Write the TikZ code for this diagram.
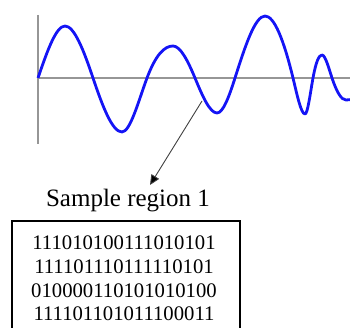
\documentclass[tikz,border=0pt]{standalone}
\usepackage{fontspec}
\setmainfont{Liberation Serif}
\usetikzlibrary{arrows.meta}
\definecolor{wave}{RGB}{20,20,245}
\definecolor{axisgray}{RGB}{150,150,150}
\tikzset{
  axisline/.style={draw=axisgray, line width=1.4pt},
  waveline/.style={draw=wave, line width=2.8pt, line join=round},
  pointer/.style={draw=black!75, line width=0.9pt, -{Triangle[length=10pt,width=9pt,fill=black]}},
  label/.style={inner sep=0pt, anchor=base, font=\fontsize{25}{30}\selectfont},
  bits/.style={inner sep=0pt, anchor=base, font=\fontsize{20.7}{23}\selectfont},
  framebox/.style={draw=black, line width=1.3pt},
}
\begin{document}
\begin{tikzpicture}[x=1pt,y=-1pt]
\useasboundingbox (0,0) rectangle (350,328);
\begin{scope}
\clip (0,0) rectangle (350,328);
% axes
\coordinate (ytop) at (38,15);
\coordinate (ybot) at (38,144);
\coordinate (xl) at (38,78);
\coordinate (xr) at (352,78);
\draw[axisline] (ytop) -- (ybot);
\draw[axisline] (xl) -- (xr);
% wave
\draw[waveline] (38,78)
  .. controls (47,51.7) and (56,26) .. (65,26)
  .. controls (74.3,26) and (83.7,50.3) .. (93,78)
  .. controls (102.7,106.7) and (112.3,132) .. (122,132)
  .. controls (130.3,132) and (138.7,100.2) .. (147,78)
  .. controls (155.7,54.9) and (164.3,46) .. (173,46)
  .. controls (180.3,46) and (187.7,60.4) .. (195,78)
  .. controls (202.3,95.6) and (209.7,113) .. (217,113)
  .. controls (223,113) and (229,96.9) .. (235,78)
  .. controls (245,46.5) and (255,16) .. (265,16)
  .. controls (274.3,16) and (283.7,39.7) .. (293,78)
  .. controls (297,94.4) and (301,114) .. (305,114)
  .. controls (307.7,114) and (310.3,92.7) .. (313,78)
  .. controls (316,61.5) and (319,55) .. (322,55)
  .. controls (325.3,55) and (328.7,68) .. (332,78)
  .. controls (336.7,92) and (341.3,100) .. (346,100)
  .. controls (348,100) and (350,99.6) .. (353,99.3);
% pointer
\coordinate (src) at (202,101);
\node[label] (lab) at (128,207) {Sample region 1};
\coordinate (tip) at (150,185);
\draw[pointer] (src) -- (tip);
% box
\coordinate (bl) at (12,221);
\coordinate (br) at (240,340);
\draw[framebox] (bl) rectangle (br);
\node[bits] (b1) at (124,250) {111010100111010101};
\node[bits] (b2) at (124,273) {111101110111110101};
\node[bits] (b3) at (124,297) {010000110101010100};
\node[bits] (b4) at (124,320) {111101101011100011};
\end{scope}
\end{tikzpicture}
\end{document}
